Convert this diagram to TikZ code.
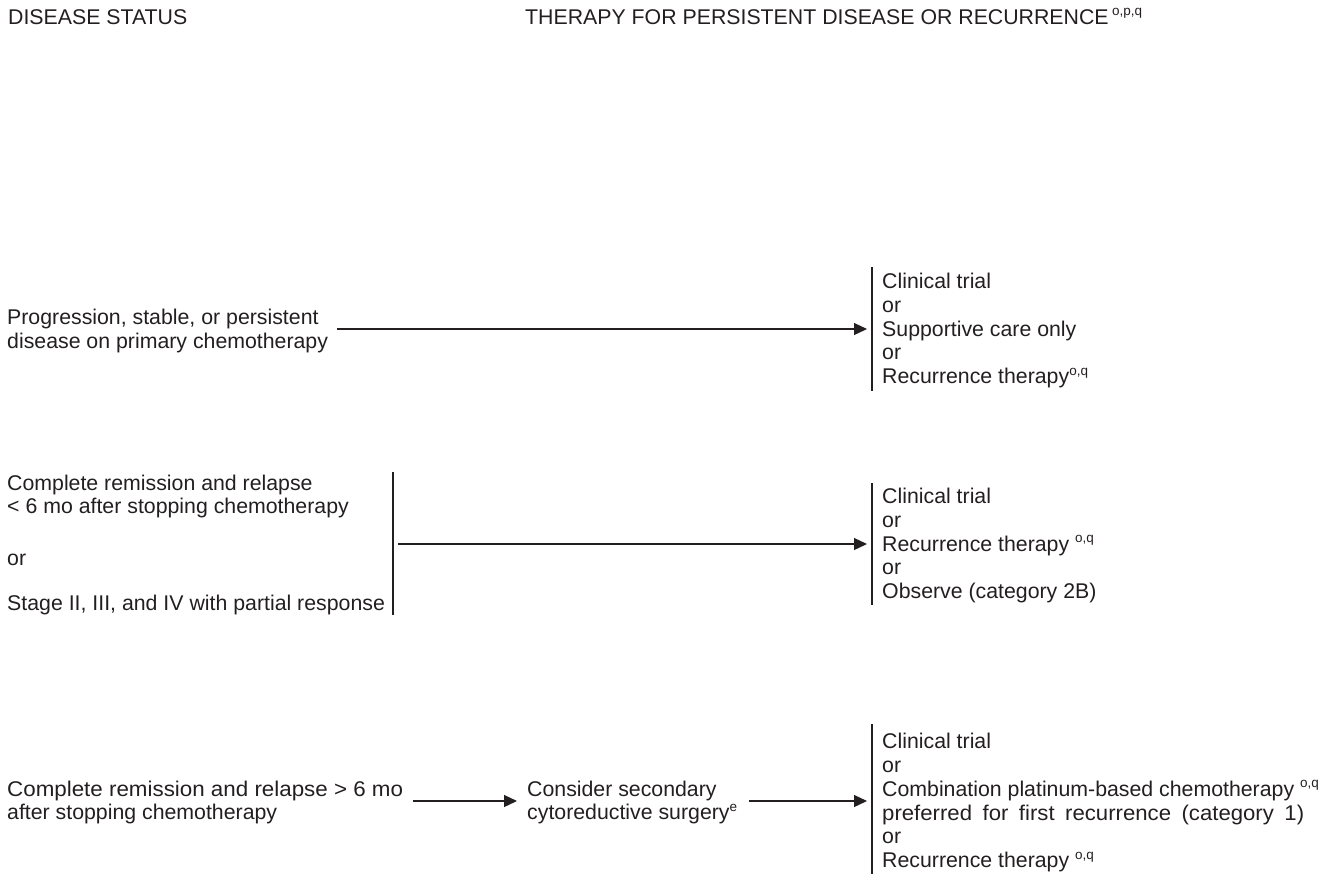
\documentclass[tikz,border=0pt]{standalone}
\usepackage{fontspec}
\setmainfont{Liberation Sans}
\newfontfamily\widefont{Liberation Sans}[FakeStretch=1.05]
\newfontfamily\slightwide{Liberation Sans}[FakeStretch=1.04]
\usetikzlibrary{arrows.meta}
\definecolor{ink}{HTML}{231F20}
% footnote-style superscript letters
\newcommand{\fnref}[1]{\raisebox{0.4em}{\fontsize{13.5}{13.5}\selectfont #1}}

\begin{document}
\begin{tikzpicture}[x=1pt,y=-1pt,
  txt/.style={anchor=north west, inner sep=0pt, align=left, text=ink,
              font=\fontsize{21.3}{23.75}\selectfont},
  arr/.style={draw=ink, line width=1.2pt, -{Triangle[length=13pt,width=12pt]}},
  bar/.style={draw=ink, line width=1.2pt}]
\useasboundingbox (0,0) rectangle (1338,876);

% column headings
\node[txt] (hdstatus) at (8,7.4) {\strut DISEASE STATUS};
\node[txt] (hdtherapy) at (525,7.4) {\strut THERAPY FOR PERSISTENT DISEASE OR RECURRENCE\,\fnref{o,p,q}};

% ---- progression / persistent disease
\node[txt] (prog) at (7,307.5) {\strut Progression, stable, or persistent\\\strut disease on primary chemotherapy};
\node[txt] (progtx) at (882,271.9) {\strut Clinical trial\\\strut or\\\strut Supportive care only\\\strut or\\\strut Recurrence therapy\fnref{o,q}};
\coordinate (progbt) at (872,267);
\coordinate (progbb) at (872,391);
\draw[bar] (progbt) -- (progbb);
\coordinate (progs) at (337,329);
\coordinate (proge) at (867,329);
\draw[arr] (progs) -- (proge);

% ---- early relapse / partial response
\node[txt] (early) at (7,473.4) {\strut Complete remission and relapse\\\strut < 6 mo after stopping chemotherapy};
\node[txt] (earlyor) at (7,548.4) {\strut or};
\node[txt] (partial) at (7,593.4) {\strut Stage II, III, and IV with partial response};
\coordinate (lbt) at (393,472);
\coordinate (lbb) at (393,615);
\draw[bar] (lbt) -- (lbb);
\node[txt] (earlytx) at (882,486.9) {\strut Clinical trial\\\strut or\\\strut Recurrence therapy \fnref{o,q}\\\strut or\\\strut Observe (category 2B)};
\coordinate (earlybt) at (872,483);
\coordinate (earlybb) at (872,605);
\draw[bar] (earlybt) -- (earlybb);
\coordinate (earlys) at (398,544);
\coordinate (earlye) at (867,544);
\draw[arr] (earlys) -- (earlye);

% ---- late relapse
\node[txt] (late) at (7,779.4) {\widefont\strut Complete remission and relapse > 6 mo\\\strut after stopping chemotherapy};
\node[txt] (surg) at (527,779.4) {\strut Consider secondary\\\strut cytoreductive surgery\fnref{e}};
\node[txt] (latetx) at (882,732) {\strut Clinical trial\\\strut or\\\strut Combination platinum-based chemotherapy \fnref{o,q}\\\strut \makebox[422pt][s]{\slightwide preferred for first recurrence (category 1)}\\\strut or\\\strut Recurrence therapy \fnref{o,q}};
\coordinate (latebt) at (872,724);
\coordinate (latebb) at (872,874);
\draw[bar] (latebt) -- (latebb);
\coordinate (lates) at (413,801);
\coordinate (surgin) at (517,801);
\coordinate (surgout) at (749,801);
\coordinate (latee) at (867,801);
\draw[arr] (lates) -- (surgin);
\draw[arr] (surgout) -- (latee);
\end{tikzpicture}
\end{document}
